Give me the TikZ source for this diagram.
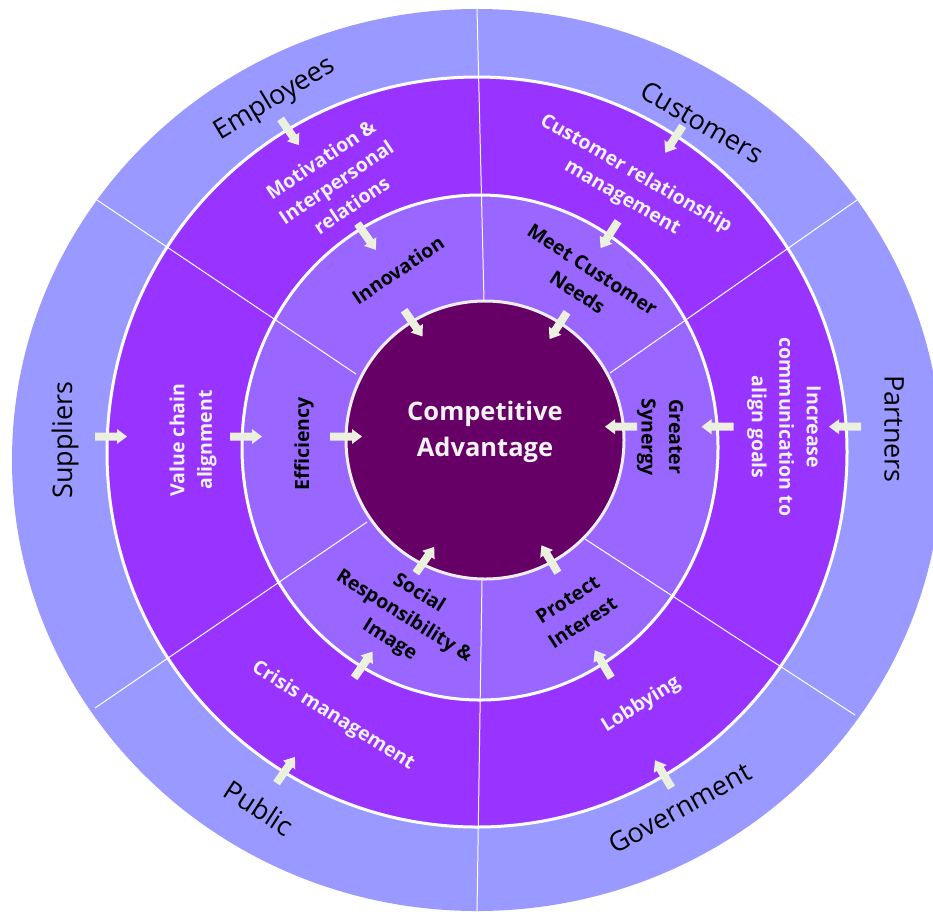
\documentclass[tikz,border=0pt]{standalone}
\usepackage{fontspec}
\setmainfont{Open Sans}
\definecolor{outerfill}{HTML}{9999FF}
\definecolor{midfill}{HTML}{9933FF}
\definecolor{innerfill}{HTML}{9966FF}
\definecolor{corefill}{HTML}{660066}
\definecolor{coreedge}{HTML}{EEEEEE}
\definecolor{arrowfill}{HTML}{EBF1DE}
\definecolor{txtwhite}{HTML}{F2F2F2}
\tikzset{
  ringedge/.style={draw=white, line width=3pt},
  sepline/.style={draw=white, line width=1pt},
  outerlbl/.style={font=\fontsize{27}{32}\selectfont, text=black, inner sep=0pt},
  midlbl/.style={font=\fontsize{19.5}{27.5}\selectfont\bfseries, text=txtwhite, align=center, inner sep=0pt},
  innerlbl/.style={font=\fontsize{19.5}{27.5}\selectfont\bfseries, text=black, align=center, inner sep=0pt},
  corelbl/.style={font=\fontsize{25.5}{36}\selectfont\bfseries, text=txtwhite, align=center, inner sep=0pt},
  blockarrow/.pic={\fill[arrowfill] (-16,-4) -- (6,-4) -- (6,-7.5) -- (16,0) -- (6,7.5) -- (6,4) -- (-16,4) -- cycle;}
}
\begin{document}
\begin{tikzpicture}[x=1pt,y=-1pt]
\useasboundingbox (0,0) rectangle (933,911);
\clip (0,0) rectangle (933,911);
% rings
\fill[outerfill] (477,460) ellipse [x radius=465, y radius=451];
\path[fill=midfill, ringedge] (477,452) ellipse [x radius=370, y radius=375];
\path[fill=innerfill, ringedge] (480,447.5) ellipse [x radius=238, y radius=252.5];
% separator end points
\coordinate (s1a) at (477,9);   \coordinate (s1b) at (484,301);
\coordinate (s2a) at (857,200); \coordinate (s2b) at (610,373);
\coordinate (s3a) at (855,715); \coordinate (s3b) at (585,539);
\coordinate (s4a) at (477,911); \coordinate (s4b) at (482,580);
\coordinate (s5a) at (95,708);  \coordinate (s5b) at (367,522);
\coordinate (s6a) at (97,200);  \coordinate (s6b) at (356,374);
\foreach \s in {1,...,6} {\draw[sepline] (s\s a) -- (s\s b);}
% core
\path[fill=corefill, draw=coreedge, line width=3pt] (485,440) circle [radius=139];
% arrows
\pic[rotate=-55] at (289.7,132) {blockarrow};
\pic[rotate=-55] at (366.7,236.7) {blockarrow};
\pic[rotate=-55] at (413.3,323.3) {blockarrow};
\pic[rotate=-123] at (674,139.3) {blockarrow};
\pic[rotate=-123] at (609.3,234.7) {blockarrow};
\pic[rotate=-123] at (558.3,325.7) {blockarrow};
\pic[rotate=180] at (845,426.7) {blockarrow};
\pic[rotate=180] at (717.5,426.7) {blockarrow};
\pic[rotate=180] at (621,426.7) {blockarrow};
\pic[rotate=0] at (111,436.5) {blockarrow};
\pic[rotate=0] at (246,436.5) {blockarrow};
\pic[rotate=0] at (346,436.5) {blockarrow};
\pic[rotate=55] at (285.7,770) {blockarrow};
\pic[rotate=55] at (363.3,664.7) {blockarrow};
\pic[rotate=55] at (425,560) {blockarrow};
\pic[rotate=121] at (663.3,774) {blockarrow};
\pic[rotate=121] at (603,664) {blockarrow};
\pic[rotate=121] at (549.7,559) {blockarrow};
% outer labels
\node[outerlbl, rotate=31] (employees) at (275,99) {Employees};
\node[outerlbl, rotate=-30] (customers) at (702,122) {Customers};
\node[outerlbl, rotate=-90] (partners) at (894,429) {Partners};
\node[outerlbl, rotate=90] (suppliers) at (65,440) {Suppliers};
\node[outerlbl, rotate=-33] (public) at (259,808) {Public};
\node[outerlbl, rotate=29] (government) at (680,808) {Government};
% middle ring labels
\node[midlbl, rotate=34] (motivation) at (336,182) {Motivation \&\\Interpersonal\\relations};
\node[midlbl, rotate=-30] (crm) at (629,186) {Customer relationship\\management};
\node[midlbl, rotate=-90] (increase) at (784,427) {Increase\\communication to\\align goals};
\node[midlbl, rotate=90] (valuechain) at (193,440) {Value chain\\alignment};
\node[midlbl, rotate=-32] (crisis) at (333,716) {Crisis management};
\node[midlbl, rotate=32] (lobbying) at (641,705) {Lobbying};
% inner ring labels
\node[innerlbl, rotate=34] (innovation) at (398,270) {Innovation};
\node[innerlbl, rotate=-33] (meet) at (585,281) {Meet Customer\\Needs};
\node[innerlbl, rotate=-90] (synergy) at (660,437) {Greater\\Synergy};
\node[innerlbl, rotate=90] (efficiency) at (304,444) {Efficiency};
\node[innerlbl, rotate=-32] (social) at (404,617) {Social\\Responsibility \&\\Image};
\node[innerlbl, rotate=33] (protect) at (575,611) {Protect\\Interest};
% core label
\node[corelbl] (core) at (485,432) {Competitive\\Advantage};
\end{tikzpicture}
\end{document}
